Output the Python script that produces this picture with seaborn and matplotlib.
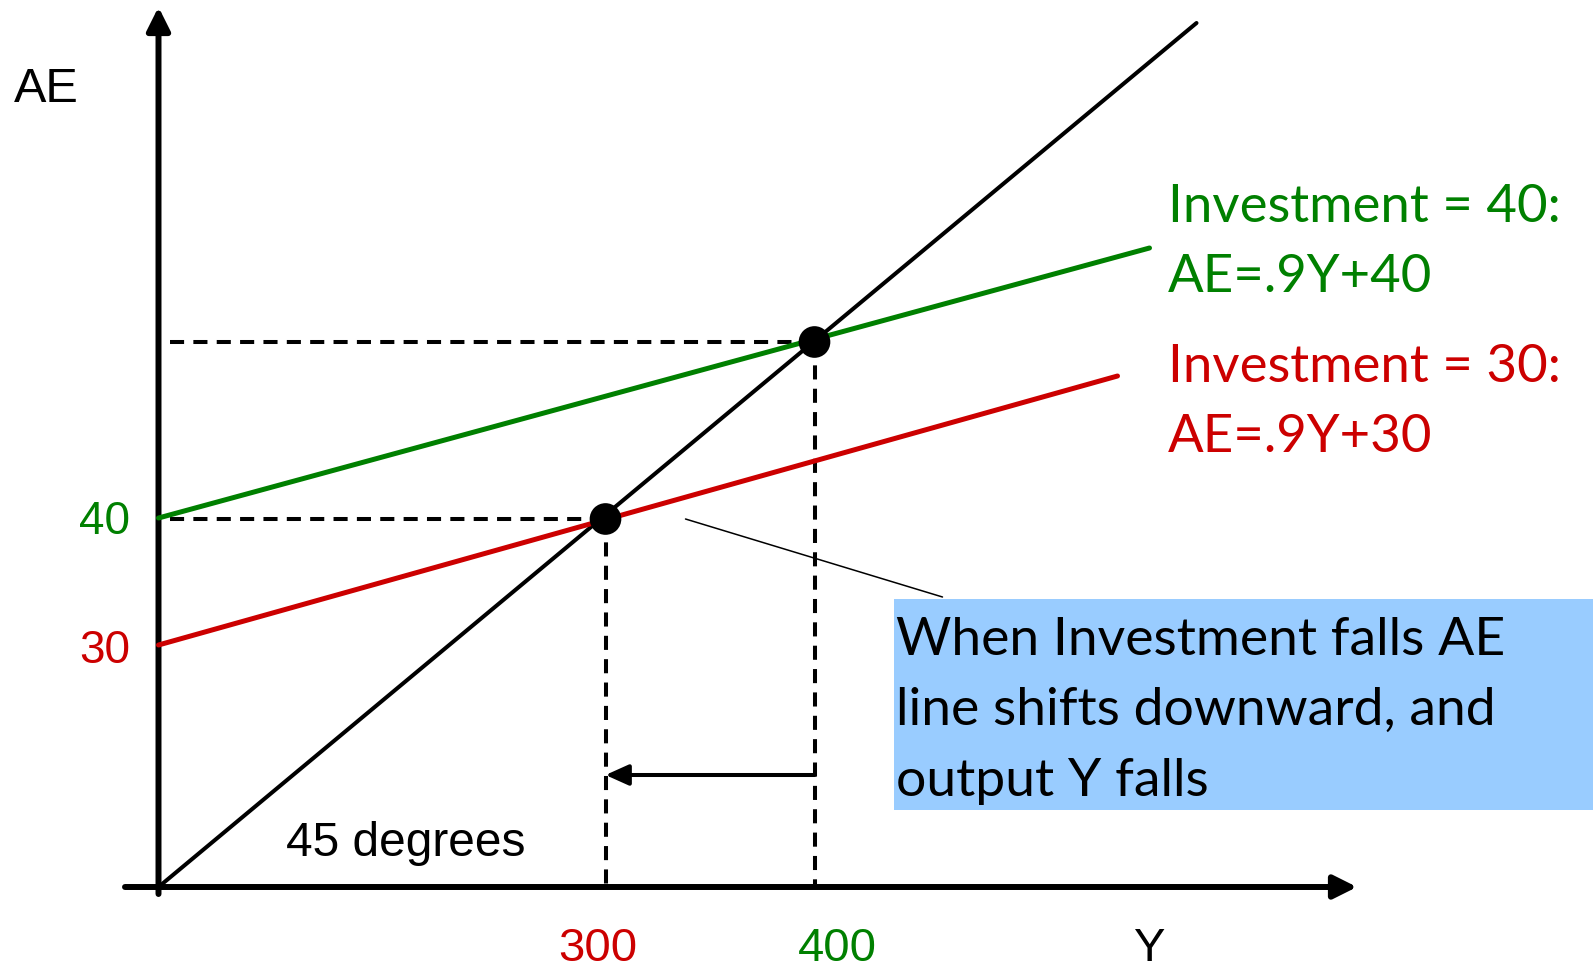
import matplotlib
matplotlib.use("Agg")
import matplotlib.pyplot as plt
from matplotlib.patches import Rectangle
import seaborn as sns

# Diagram units: origin of the AE / Y axes at (0, 0), 1 unit ~ 1 pixel
line45_y = [0, 1038]
line45_ae = [0, 864]
ae40_y = [0, 991]
ae40_ae = [369, 639]
ae30_y = [0, 959]
ae30_ae = [242, 511]

# Equilibria (new after the fall, old before)
eq_y = [447, 656]
eq_ae = [368, 545]
eq_colors = ["#CC0000", "#008000"]

y_tick_pos = [439, 679]
y_tick_labels = ["300", "400"]
ae_tick_pos = [353, 224]
ae_tick_labels = ["40", "30"]
ae_tick_colors = ["#008000", "#CC0000"]

GREEN = "#008000"
RED = "#CC0000"
BOX = "#99CCFF"

sns.set_theme(style="white")
plt.rcParams["font.family"] = ["Liberation Sans", "DejaVu Sans"]
plt.rcParams["text.color"] = "black"

fig = plt.figure(figsize=(15.93, 9.71), dpi=100)
ax = fig.add_axes([0, 0, 1, 1])
ax.set_xlim(-158.5, 1434.5)
ax.set_ylim(-84, 887)
ax.axis("off")

# Axes with arrow heads
arrow_kw = dict(arrowstyle="-|>,head_length=1.0,head_width=0.5", color="black",
                lw=4.3, mutation_scale=14, shrinkA=0, shrinkB=0)
ax.annotate("", xy=(0, 880), xytext=(0, -7), arrowprops=arrow_kw)
ax.annotate("", xy=(1198.5, 0), xytext=(-33.5, 0), arrowprops=arrow_kw)

# Dashed guides to the equilibria
dash = (0, (3.5, 2.3))
for yv, av in zip(eq_y, eq_ae):
    ax.plot([11, yv], [av, av], color="black", lw=2.9, linestyle=dash, zorder=2)
    ax.plot([yv, yv], [av, 3], color="black", lw=2.9, linestyle=dash, zorder=2)

# 45-degree line and the two AE lines
sns.lineplot(x=line45_y, y=line45_ae, color="black", lw=2.9, ax=ax, zorder=3)
sns.lineplot(x=ae40_y, y=ae40_ae, color=GREEN, lw=3.6, ax=ax, zorder=3)
sns.lineplot(x=ae30_y, y=ae30_ae, color=RED, lw=3.6, ax=ax, zorder=3)

sns.scatterplot(x=eq_y, y=eq_ae, color="black", s=520, edgecolor="none", ax=ax, zorder=5)

# Shift of output
ax.annotate("", xy=(eq_y[0], 112), xytext=(eq_y[1], 112),
            arrowprops=dict(arrowstyle="-|>,head_length=1.0,head_width=0.45",
                            color="black", lw=2.9, mutation_scale=14,
                            shrinkA=0, shrinkB=0))

# Callout
ax.plot([527, 784], [368, 290], color="black", lw=1.1, zorder=2)
ax.add_patch(Rectangle((735.5, 77), 699, 211, facecolor=BOX, edgecolor="none", zorder=1))

# Axis labels and tick labels
ax.text(-144.5, 785, "AE", fontsize=35, ha="left", va="baseline")
ax.text(991, -74, "Y", fontsize=34, ha="center", va="baseline")
for pos, lab, col in zip(y_tick_pos, y_tick_labels, eq_colors):
    ax.text(pos, -74, lab, fontsize=34, color=col, ha="center", va="baseline")
for pos, lab, col in zip(ae_tick_pos, ae_tick_labels, ae_tick_colors):
    ax.text(-28.5, pos, lab, fontsize=33, color=col, ha="right", va="baseline")
ax.text(128, 31, "45 degrees", fontsize=34.5, ha="left", va="baseline")

# Equation labels
lab_font = ["Lato", "DejaVu Sans"]
ax.text(1009, 665, "Investment = 40:", fontsize=38, color=GREEN, family=lab_font, va="baseline")
ax.text(1009, 595, "AE=.9Y+40", fontsize=38, color=GREEN, family=lab_font, va="baseline")
ax.text(1009, 505, "Investment = 30:", fontsize=38, color=RED, family=lab_font, va="baseline")
ax.text(1009, 435, "AE=.9Y+30", fontsize=38, color=RED, family=lab_font, va="baseline")

box_lines = ["When Investment falls AE", "line shifts downward, and", "output Y falls"]
for txt, base in zip(box_lines, [232, 162.5, 91.5]):
    ax.text(737.5, base, txt, fontsize=38.5, family=lab_font, va="baseline", zorder=2)

fig.savefig("out.png", dpi=100)
